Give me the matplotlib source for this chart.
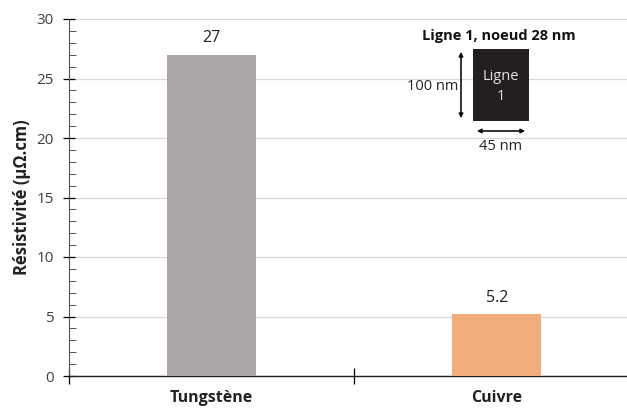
import matplotlib
matplotlib.use("Agg")
import matplotlib.pyplot as plt
from matplotlib.ticker import MultipleLocator
from matplotlib.patches import Rectangle, FancyArrowPatch

# data
categories = ["Tungstène", "Cuivre"]
values = [27, 5.2]
value_labels = ["27", "5.2"]
colors = ["#AAA7A6", "#F0AD79"]

plt.rcParams["font.family"] = ["Open Sans", "DejaVu Sans"]

W, H = 627, 409
fig = plt.figure(figsize=(W / 100, H / 100), dpi=100)
ax = fig.add_axes([69 / W, 1 - 376 / H, (W - 69) / W, (376 - 19) / H])

x = list(range(len(categories)))
ax.bar(x, values, width=0.312, color=colors, zorder=3)
for xi, v, lab in zip(x, values, value_labels):
    ax.text(xi, v + 0.7, lab, ha="center", va="bottom", fontsize=11.5, color="#222222")

ax.set_xlim(-0.5, 1.456)
ax.set_ylim(0, 30)
ax.yaxis.set_major_locator(MultipleLocator(5))
ax.yaxis.set_minor_locator(MultipleLocator(1))
ax.grid(axis="y", which="major", color="#D9D9D9", lw=0.9, zorder=0)
ax.tick_params(axis="y", which="major", direction="inout", length=8, width=0.9,
               labelsize=11, labelcolor="#404040", pad=7)
ax.tick_params(axis="y", which="minor", direction="in", length=5, width=0.7, color="#555555")

# category boundaries as x ticks, labels at centres
ax.set_xticks([-0.5, 0.5])
ax.set_xticklabels([])
ax.set_xticks(x, minor=True)
ax.set_xticklabels(categories, minor=True, fontsize=11.5, fontweight="bold", color="#222222")
ax.tick_params(axis="x", which="major", direction="inout", length=12, width=0.9)
ax.tick_params(axis="x", which="minor", length=0, pad=10)

for s in ["top", "right"]:
    ax.spines[s].set_visible(False)
ax.spines["left"].set_color("#555555")
ax.spines["bottom"].set_color("#222222")
ax.spines["bottom"].set_linewidth(1.0)

ax.set_ylabel("Résistivité (µΩ.cm)", fontsize=12, fontweight="bold", color="#222222", labelpad=4)

# ── Inset diagram (pixel coordinates) ───────────────────────────────────────
ins = fig.add_axes([0, 0, 1, 1])
ins.set_xlim(0, W)
ins.set_ylim(H, 0)
ins.axis("off")

ins.text(499, 36, "Ligne 1, noeud 28 nm", ha="center", va="center",
         fontsize=10.5, fontweight="bold", color="#111111")
ins.add_patch(Rectangle((473, 49), 56, 72, facecolor="#231F20", edgecolor="none"))
ins.text(501, 77, "Ligne", ha="center", va="center", fontsize=10.5, color="#E0E0E0")
ins.text(501, 97, "1", ha="center", va="center", fontsize=10.5, color="#E0E0E0")
ins.add_patch(FancyArrowPatch((461, 49), (461, 121), arrowstyle="<|-|>",
                              mutation_scale=6, lw=1.2, color="#111111"))
ins.text(433, 86, "100 nm", ha="center", va="center", fontsize=10.5, color="#222222")
ins.add_patch(FancyArrowPatch((474, 131), (528, 131), arrowstyle="<|-|>",
                              mutation_scale=6, lw=1.2, color="#111111"))
ins.text(501, 147, "45 nm", ha="center", va="center", fontsize=10.5, color="#222222")

fig.savefig("out.png", dpi=100)
